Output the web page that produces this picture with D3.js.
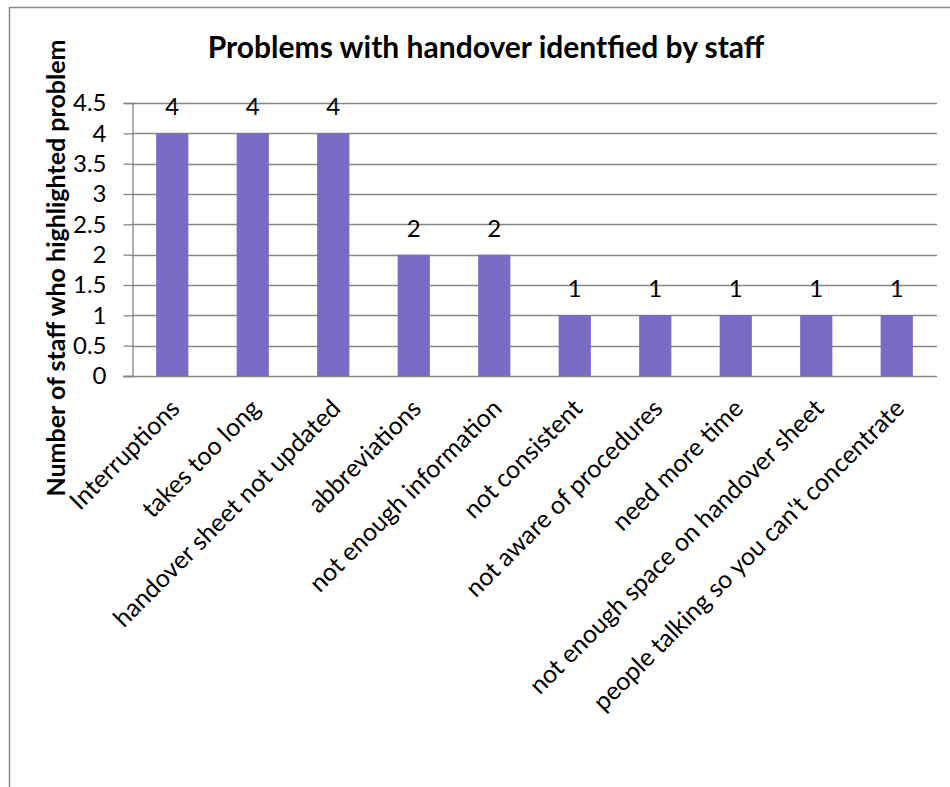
<!DOCTYPE html>
<html>
<head>
<meta charset="utf-8">
<script src="https://cdn.jsdelivr.net/npm/d3@7"></script>
<style>
html, body { margin: 0; padding: 0; background: #fff; }
svg { display: block; }
text { font-family: Lato, "Open Sans", sans-serif; fill: #000; }
</style>
</head>
<body>
<script>
const categories = [
  "Interruptions",
  "takes too long",
  "handover sheet not updated",
  "abbreviations",
  "not enough information",
  "not consistent",
  "not aware of procedures",
  "need more time",
  "not enough space on handover sheet",
  "people talking so you can't concentrate"
];
const values = [4, 4, 4, 2, 2, 1, 1, 1, 1, 1];
const yTicks = [0, 0.5, 1, 1.5, 2, 2.5, 3, 3.5, 4, 4.5];
const title = "Problems with handover identfied by staff";
const yTitle = "Number of staff who highlighted problem";

(function () {
const W = 950, H = 787;
const svg = d3.select("body").append("svg").attr("width", W).attr("height", H);

// chart frame
svg.append("rect")
  .attr("x", 9.5).attr("y", 7.5)
  .attr("width", 1000).attr("height", 1000)
  .attr("fill", "#fff").attr("stroke", "#8c8c8c").attr("stroke-width", 1.5);

const pLeft = 132, pRight = 937, pTop = 103, pBottom = 376;

const x = d3.scaleBand().domain(categories).range([pLeft, pRight])
  .paddingInner(0.6).paddingOuter(0.3);
const y = d3.scaleLinear().domain([0, 4.5]).range([pBottom, pTop]);

// gridlines
svg.append("g").selectAll("line").data(yTicks.filter(d => d > 0)).join("line")
  .attr("x1", pLeft).attr("x2", pRight)
  .attr("y1", d => Math.round(y(d)) + 0.5).attr("y2", d => Math.round(y(d)) + 0.5)
  .attr("stroke", "#868686").attr("stroke-width", 1.3);

// y axis
const yAxis = svg.append("g").attr("transform", `translate(${pLeft + 0.5},0)`)
  .call(d3.axisLeft(y).tickValues(yTicks).tickSize(9).tickPadding(17).tickFormat(d => String(d)));
yAxis.select(".domain").attr("stroke", "#868686").attr("stroke-width", 1.3);
yAxis.selectAll(".tick line").attr("stroke", "#868686").attr("stroke-width", 1.3);
yAxis.selectAll(".tick text").style("font-size", "24px").attr("fill", "#000")
  .style("font-family", "Lato, sans-serif");

// x axis baseline
svg.append("line").attr("x1", pLeft - 9).attr("x2", pRight)
  .attr("y1", Math.round(y(0)) + 0.5).attr("y2", Math.round(y(0)) + 0.5)
  .attr("stroke", "#868686").attr("stroke-width", 1.3);

// bars
svg.append("g").selectAll("rect").data(values).join("rect")
  .attr("x", (d, i) => x(categories[i]))
  .attr("width", x.bandwidth())
  .attr("y", d => y(d))
  .attr("height", d => y(0) - y(d))
  .attr("fill", "#7B6AC6");

// value labels
svg.append("g").selectAll("text").data(values).join("text")
  .attr("x", (d, i) => x(categories[i]) + x.bandwidth() / 2)
  .attr("y", d => y(d) - 18)
  .attr("text-anchor", "middle")
  .style("font-size", "24px")
  .text(d => d);

// category labels
svg.append("g").selectAll("text").data(categories).join("text")
  .attr("text-anchor", "end")
  .attr("transform", d => `translate(${x(d) + x.bandwidth() / 2 + 9},${pBottom + 34}) rotate(-45)`)
  .style("font-size", "25px")
  .text(d => d);

// title
svg.append("text").attr("x", 486).attr("y", 58).attr("text-anchor", "middle")
  .style("font-size", "30px").style("font-weight", "bold").text(title);

// y title
svg.append("text")
  .attr("transform", `translate(65,268) rotate(-90)`)
  .attr("text-anchor", "middle")
  .style("font-size", "25px").style("font-weight", "bold").text(yTitle);
})();
</script>
</body>
</html>
